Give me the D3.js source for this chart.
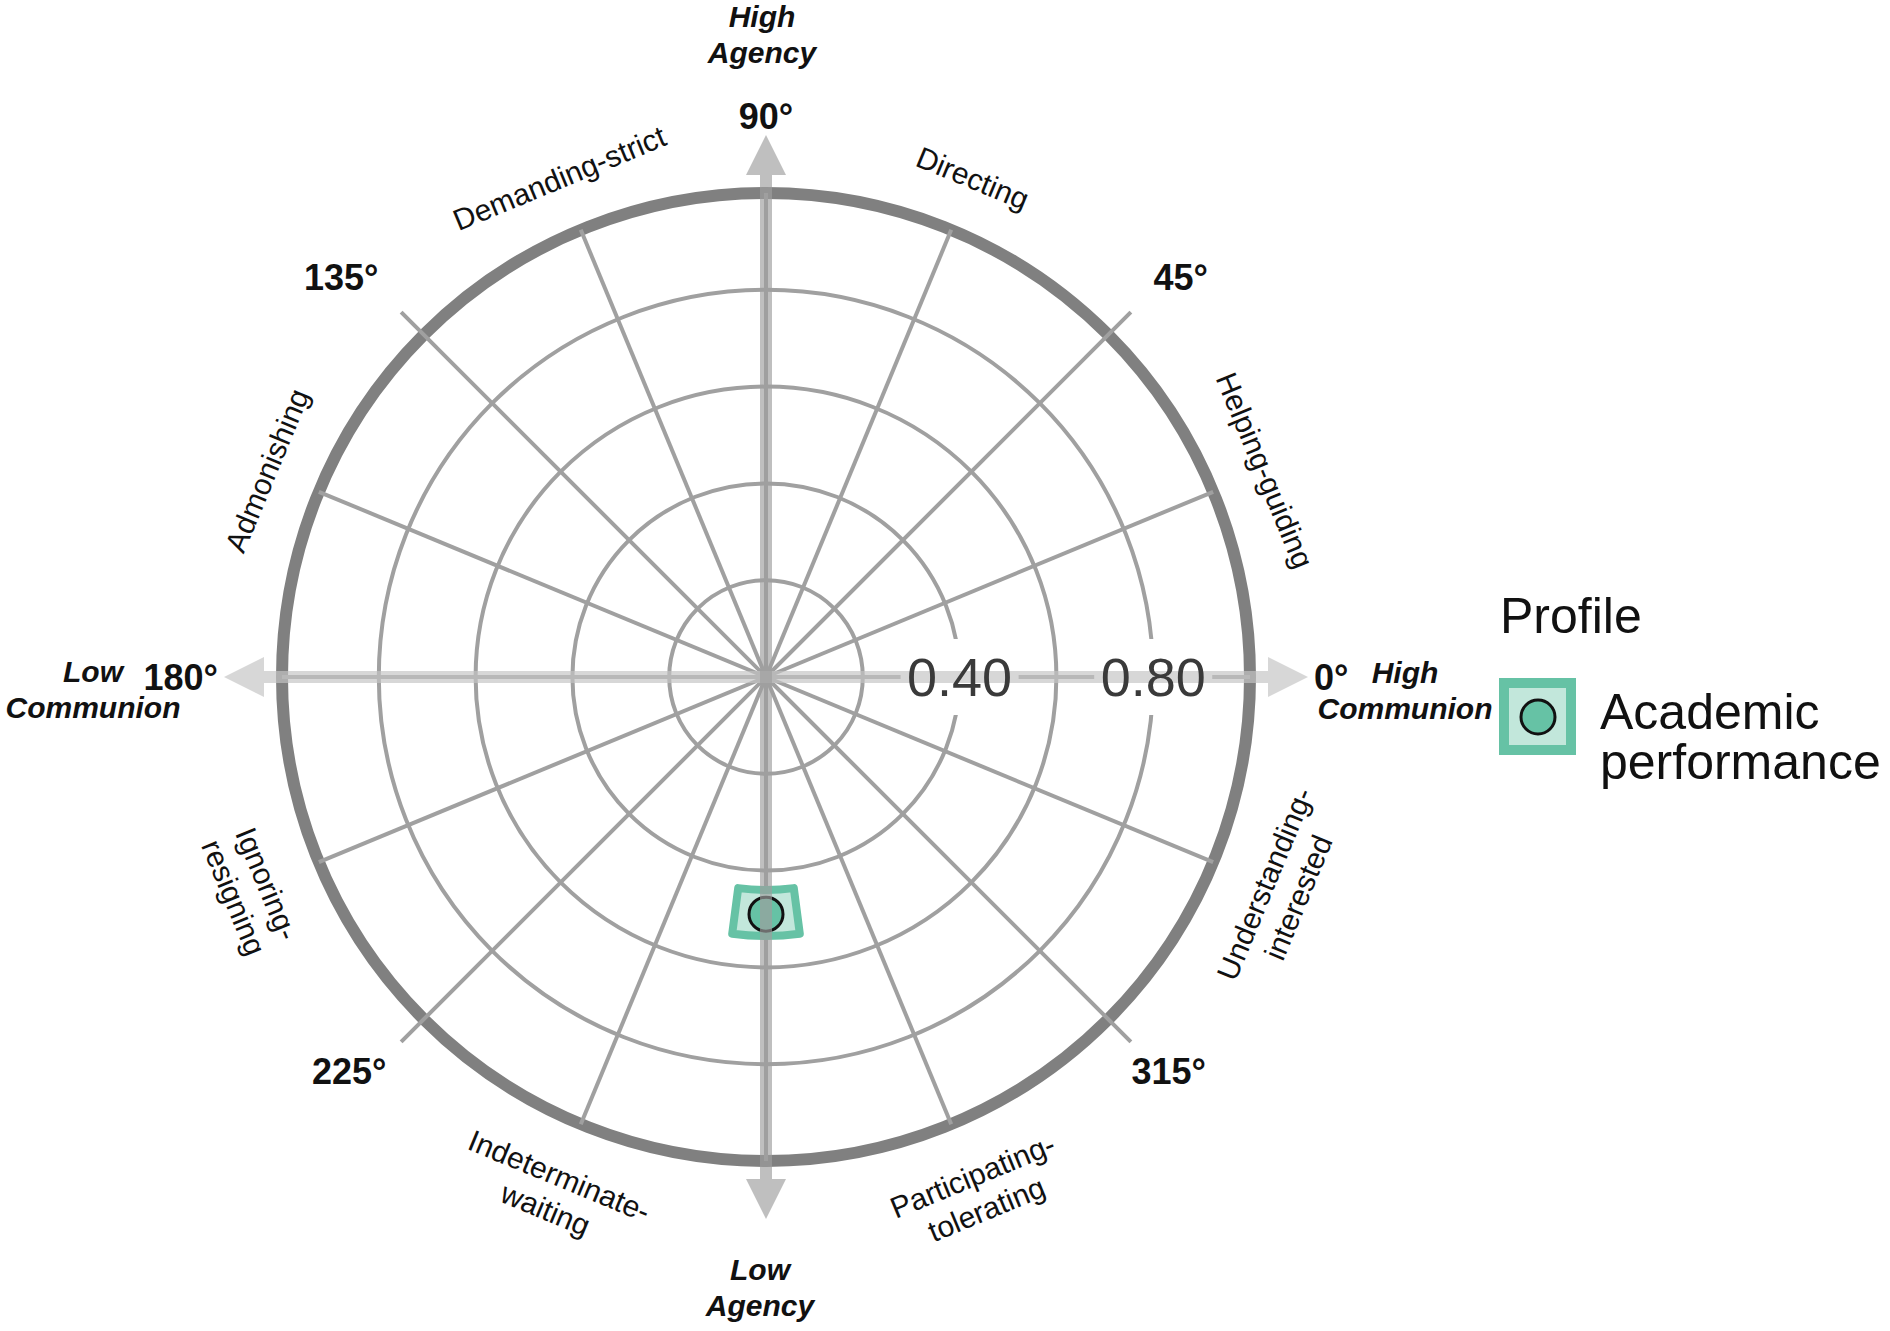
<!DOCTYPE html>
<html lang="en">
<head>
<meta charset="UTF-8">
<script src="https://d3js.org/d3.v7.min.js"></script>
<title>Profile circumplex</title>
<style>
  body { margin: 0; background: #fff; }
  svg text { font-family: "Liberation Sans", Arial, sans-serif; }
</style>
</head>
<body>
<div id="container"></div>
<script>
// octants, angles counter-clockwise from 0° (High Communion)
var octantAngles = [22.5, 67.5, 112.5, 157.5, 202.5, 247.5, 292.5, 337.5];
var octantLabels = ["Helping-guiding", "Directing", "Demanding-strict", "Admonishing",
                    "Ignoring-\nresigning", "Indeterminate-\nwaiting",
                    "Participating-\ntolerating", "Understanding-\ninterested"];
var degreeAngles = [0, 45, 90, 135, 180, 225, 315];
var degreeLabels = ["0°", "45°", "90°", "135°", "180°", "225°", "315°"];
var ringValues = [0.2, 0.4, 0.6, 0.8];
var ringLabelValues = [0.40, 0.80];
var maxValue = 1.0;

// profile (structural summary): displacement + angle with confidence bounds
var profileNames = ["Academic performance"];
var profileDisplacement = [0.49];
var profileDispLower = [0.44];
var profileDispUpper = [0.535];
var profileAngle = [270];
var profileAngleLower = [262.5];
var profileAngleUpper = [277.5];

var width = 1890, height = 1331;
var cx = 766, cy = 677, R = 484;
var green = "#66c2a5";

var svg = d3.select("#container").append("svg")
    .attr("width", width).attr("height", height);
svg.append("rect").attr("width", width).attr("height", height).attr("fill", "#fff");

var r = d3.scaleLinear().domain([0, maxValue]).range([0, R]);

function pt(deg, rad) {
  var a = deg * Math.PI / 180;
  return [cx + rad * Math.cos(a), cy - rad * Math.sin(a)];
}

var g = svg.append("g");

// outer circle
g.append("circle").attr("cx", cx).attr("cy", cy).attr("r", r(maxValue))
  .attr("fill", "none").attr("stroke", "#808080").attr("stroke-width", 12);

// inner rings
g.selectAll("circle.ring").data(ringValues).enter().append("circle")
  .attr("class", "ring")
  .attr("cx", cx).attr("cy", cy).attr("r", function(d){ return r(d); })
  .attr("fill", "none").attr("stroke", "#a0a0a0").attr("stroke-width", 4);

// spokes every 22.5°, diagonals run a bit past the circle
var spokes = d3.range(0, 360, 22.5);
g.selectAll("line.spoke").data(spokes).enter().append("line")
  .attr("class", "spoke")
  .attr("x1", cx).attr("y1", cy)
  .attr("x2", function(d){ return pt(d, (d % 90 === 45) ? R + 32 : R)[0]; })
  .attr("y2", function(d){ return pt(d, (d % 90 === 45) ? R + 32 : R)[1]; })
  .attr("stroke", "#a0a0a0").attr("stroke-width", 4);

// gaps in rings behind the amplitude labels
g.selectAll("rect.gap").data(ringLabelValues).enter().append("rect")
  .attr("x", function(d){ return cx + r(d) - 59; })
  .attr("y", cy - 38).attr("width", 118).attr("height", 76)
  .attr("fill", "#fff");

// profile confidence region and point
var arc = d3.arc();
profileNames.forEach(function(name, i) {
  var toArc = function(deg){ return (90 - deg) * Math.PI / 180; };
  g.append("path")
    .attr("transform", "translate(" + cx + "," + cy + ")")
    .attr("d", arc({
      innerRadius: r(profileDispLower[i]),
      outerRadius: r(profileDispUpper[i]),
      startAngle: toArc(profileAngleUpper[i]),
      endAngle: toArc(profileAngleLower[i])
    }))
    .attr("fill", "#c2e7db").attr("stroke", green)
    .attr("stroke-width", 8).attr("stroke-linejoin", "round");
  var p = pt(profileAngle[i], r(profileDisplacement[i]));
  g.append("circle").attr("cx", p[0]).attr("cy", p[1]).attr("r", 17)
    .attr("fill", green).attr("stroke", "#111").attr("stroke-width", 3);
});

// double-headed axis arrows
var L = R + 58, hl = 40, hw = 20, sw = 6;
function arrowPts(vertical) {
  var p = [[-L,0],[-L+hl,-hw],[-L+hl,-sw],[L-hl,-sw],[L-hl,-hw],[L,0],
           [L-hl,hw],[L-hl,sw],[-L+hl,sw],[-L+hl,hw]];
  return p.map(function(q){
    return vertical ? (cx + q[1]) + "," + (cy + q[0]) : (cx + q[0]) + "," + (cy + q[1]);
  }).join(" ");
}
g.append("polygon").attr("points", arrowPts(false))
  .attr("fill", "#c4c4c4").attr("opacity", 0.68);
g.append("polygon").attr("points", arrowPts(true))
  .attr("fill", "#9e9e9e").attr("opacity", 0.66);

// amplitude labels
g.selectAll("text.amp").data(ringLabelValues).enter().append("text")
  .attr("x", function(d){ return cx + r(d); })
  .attr("y", cy + 19)
  .attr("text-anchor", "middle")
  .attr("font-size", 54).attr("fill", "#3a3a3a")
  .text(function(d){ return d3.format(".2f")(d); });

// octant labels, rotated along the circle
var labR = R + 56, lineGap = 36;
octantAngles.forEach(function(a, i) {
  var rot = (a > 180) ? 270 - a : 90 - a;
  octantLabels[i].split("\n").forEach(function(line, j) {
    var p = pt(a, labR + j * lineGap);
    g.append("text")
      .attr("transform", "translate(" + p[0] + "," + p[1] + ") rotate(" + rot + ")")
      .attr("text-anchor", "middle").attr("dy", "0.35em")
      .attr("font-size", 30).attr("fill", "#111")
      .text(line);
  });
});

// degree labels
var degR = R + 64;
var degNudge = {225: [8, -6], 315: [-22, -6]};
degreeAngles.forEach(function(a, i) {
  var p = pt(a, degR);
  var n = degNudge[a] || [0, 0];
  var c = Math.cos(a * Math.PI / 180), s = Math.sin(a * Math.PI / 180);
  var anchor = c > 0.1 ? "start" : (c < -0.1 ? "end" : "middle");
  var dy = s > 0.1 ? "0em" : (s < -0.1 ? "0.72em" : "0.36em");
  g.append("text").attr("x", p[0] + n[0]).attr("y", p[1] + n[1]).attr("dy", dy)
    .attr("text-anchor", anchor)
    .attr("font-size", 36).attr("font-weight", "bold").attr("fill", "#111")
    .text(degreeLabels[i]);
});

// pole titles
var poles = [
  {lines: ["High", "Agency"], x: cx - 4, y: 27},
  {lines: ["Low", "Agency"], x: cx - 6, y: 1280},
  {lines: ["Low", "Communion"], x: 93, y: 682},
  {lines: ["High", "Communion"], x: 1405, y: 683}
];
poles.forEach(function(d) {
  d.lines.forEach(function(line, j) {
    g.append("text").attr("x", d.x).attr("y", d.y + j * 36)
      .attr("text-anchor", "middle")
      .attr("font-size", 30).attr("font-weight", "bold").attr("font-style", "italic")
      .attr("fill", "#111").text(line);
  });
});

// legend
var leg = svg.append("g").attr("transform", "translate(1499,633)");
leg.append("text").attr("x", 1).attr("y", 0).attr("font-size", 50).attr("fill", "#111")
  .text("Profile");
profileNames.forEach(function(name, i) {
  var k = leg.append("g").attr("transform", "translate(0," + (45 + i * 110) + ")");
  k.append("rect").attr("x", 5).attr("y", 5).attr("width", 67).attr("height", 67)
    .attr("fill", "#c2e7db").attr("stroke", green).attr("stroke-width", 10);
  k.append("circle").attr("cx", 39).attr("cy", 39).attr("r", 17)
    .attr("fill", green).attr("stroke", "#111").attr("stroke-width", 3);
  var words = ["Academic", "performance"];
  words.forEach(function(w, j) {
    k.append("text").attr("x", 101).attr("y", 51 + j * 50)
      .attr("font-size", 50).attr("fill", "#111").text(w);
  });
});
</script>
</body>
</html>
